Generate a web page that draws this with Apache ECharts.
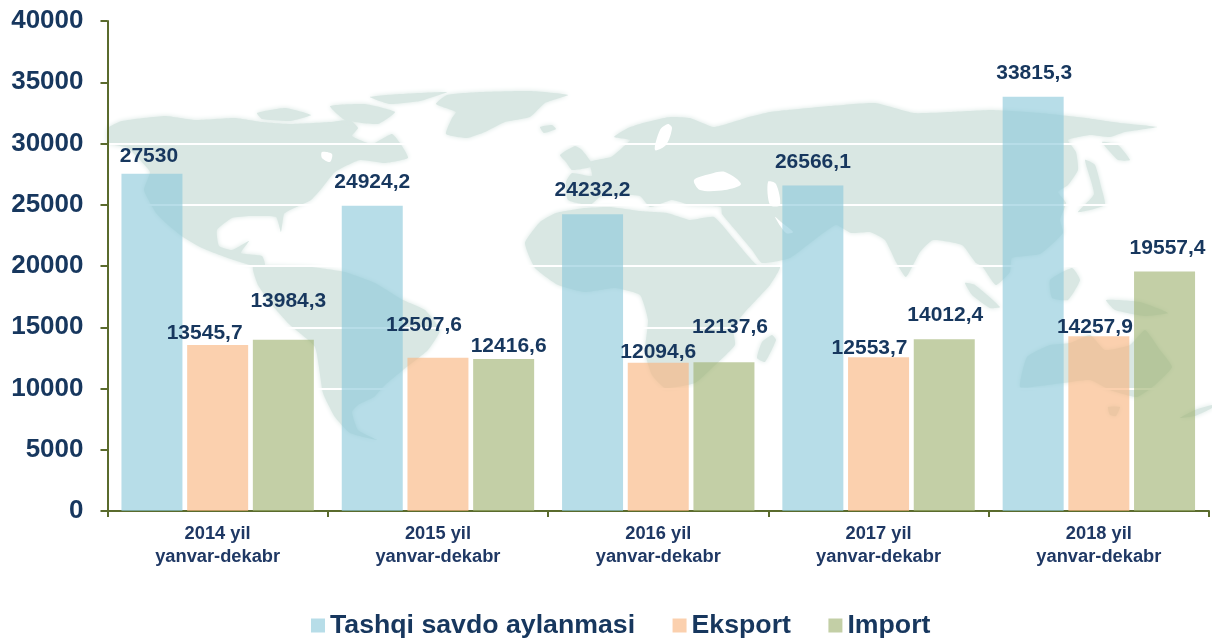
<!DOCTYPE html>
<html><head><meta charset="utf-8">
<style>html,body{margin:0;padding:0;background:#fff}#c{width:1212px;height:639px}</style>
<script src="https://cdn.jsdelivr.net/npm/echarts@6/dist/echarts.min.js"></script>
</head><body><div id="c"></div>
<script>
const categories = ['2014 yil\nyanvar-dekabr','2015 yil\nyanvar-dekabr','2016 yil\nyanvar-dekabr','2017 yil\nyanvar-dekabr','2018 yil\nyanvar-dekabr'];
const seriesNames = ['Tashqi savdo aylanmasi','Eksport','Import'];
const savdo = [27530, 24924.2, 24232.2, 26566.1, 33815.3];
const eksport = [13545.7, 12507.6, 12094.6, 12553.7, 14257.9];
const importV = [13984.3, 12416.6, 12137.6, 14012.4, 19557.4];
// label nudges (style only, not data)
const savdoNudge = [[-3,-2],[0,-8],[0,-8],[0,-8],[1,-8]];
const eksportNudge = [[-13,4],[-14,-17],[0,5],[-9,6],[-4,6]];
const importNudge = [[5,-23],[5,3],[6,-20],[1,-9],[3,-8]];
// decorative backdrop: world map silhouette (picture pixels)
const land = [
 [[108,128],[122,121],[165,116],[195,120],[235,118],[262,122],[290,124],[330,122],[350,120],[358,128],[352,136],[372,144],[392,134],[402,146],[408,158],[385,163],[360,160],[335,172],[322,188],[311,200],[290,210],[284,214],[281,232],[276,217],[250,216],[232,218],[217,230],[219,246],[232,250],[249,241],[241,253],[262,256],[265,265],[250,265],[225,257],[202,248],[183,237],[168,225],[156,213],[144,190],[150,172],[140,160],[128,148],[108,143]],
 [[447,95],[480,92],[530,91],[568,95],[545,103],[530,117],[505,122],[485,132],[467,138],[446,134],[452,118],[456,112],[436,104]],
 [[257,113],[285,108],[311,115],[290,121],[262,119]],
 [[370,97],[400,94],[447,92],[420,101],[390,104]],
 [[330,106],[365,104],[395,112],[378,124],[345,120]],
 [[540,127],[552,125],[556,129],[544,133]],
 [[253,267],[280,266],[311,267],[345,272],[375,283],[403,300],[425,310],[440,330],[428,350],[403,370],[385,385],[374,397],[358,405],[352,412],[358,430],[377,440],[350,433],[335,417],[323,393],[315,347],[290,325],[272,305],[258,285]],
 [[525,243],[540,222],[556,213],[585,208],[610,207],[640,211],[667,213],[690,220],[714,217],[733,238],[757,265],[780,267],[770,285],[745,312],[733,328],[735,345],[712,368],[695,383],[665,388],[652,375],[645,352],[648,320],[640,295],[615,288],[585,292],[558,285],[535,268]],
 [[772,335],[776,340],[765,362],[757,358],[762,342]],
 [[568,200],[566,182],[572,173],[592,176],[590,162],[611,157],[622,148],[630,140],[614,137],[628,128],[643,123],[670,117],[690,118],[714,127],[749,117],[770,112],[788,110],[830,106],[875,103],[914,113],[950,112],[992,110],[1040,113],[1086,118],[1120,123],[1157,127],[1125,132],[1110,137],[1090,135],[1068,140],[1076,152],[1078,170],[1068,185],[1058,192],[1066,203],[1060,220],[1063,233],[1040,254],[1012,258],[1010,272],[996,285],[982,266],[976,263],[962,245],[933,240],[920,252],[906,277],[896,262],[885,240],[870,232],[851,233],[836,225],[818,237],[790,258],[762,263],[752,250],[737,232],[722,214],[721,207],[690,205],[672,200],[650,207],[640,196],[620,195],[600,197],[590,205]],
 [[560,155],[575,146],[582,150],[593,166],[572,170],[566,162]],
 [[1085,160],[1095,165],[1102,190],[1105,205],[1090,210],[1078,212],[1094,194]],
 [[1102,142],[1118,145],[1130,160],[1118,160]],
 [[965,283],[975,285],[1000,307],[990,308],[972,295]],
 [[1050,280],[1072,268],[1080,280],[1068,300],[1052,298]],
 [[1106,300],[1140,302],[1168,313],[1145,316],[1115,310]],
 [[1020,387],[1027,357],[1050,345],[1070,343],[1090,335],[1105,350],[1130,345],[1145,330],[1160,350],[1172,367],[1155,385],[1137,397],[1110,390],[1090,380],[1063,383],[1040,386]],
 [[1108,407],[1120,407],[1116,416],[1110,415]],
 [[1180,418],[1195,410],[1212,405],[1212,408],[1195,416]]
];
const water = [
 [[694,180],[710,174],[725,172],[741,184],[725,190],[700,190]],
 [[768,182],[776,184],[780,205],[770,205]],
 [[660,130],[668,124],[672,128],[666,145],[655,150]],
 [[322,152],[332,154],[330,162],[322,158]],
 [[775,217],[781,222],[793,232],[786,233]]
];
const navy = '#17375e';
const font = '"Liberation Sans",Arial,sans-serif';
function mk(name, vals, color, nudge){
  return {name, type:'bar', barWidth:61, barGap:'7.7%', z:2,
    itemStyle:{color},
    data: vals.map((v,i)=>({value:v,
      label:{show:true,position:'top',distance:5,offset:nudge[i],
        formatter:()=>String(v).replace('.',','),
        fontFamily:font,fontWeight:'bold',fontSize:21,color:navy}}))};
}
const chart = echarts.init(document.getElementById('c'),null,{renderer:'canvas'});
const shapes = land.map(p=>({type:'polygon',silent:true,z:-10,shape:{points:p,smooth:0.15},
    style:{fill:'#d9e7e3',shadowBlur:5,shadowColor:'#d9e7e3'}}))
  .concat(water.map(p=>({type:'polygon',silent:true,z:-9,shape:{points:p,smooth:0.3},
    style:{fill:'#ffffff'}})));
chart.setOption({
  animation:false,
  backgroundColor:'#fff',
  grid:{left:107.5,top:21,width:1101.5,height:490,containLabel:false},
  graphic:{elements:shapes},
  legend:{left:306,top:612,itemWidth:14,itemHeight:14,itemGap:37.5,icon:'rect',padding:[0,5],
    data:seriesNames,selectedMode:false,
    textStyle:{fontFamily:font,fontWeight:'bold',fontSize:26.7,color:navy,padding:[3,0,0,0]}},
  xAxis:{type:'category',data:categories,
    axisLine:{lineStyle:{color:'#5a6b2d',width:2}},
    axisTick:{show:true,alignWithLabel:false,length:6,lineStyle:{color:'#5a6b2d',width:2}},
    axisLabel:{margin:11,lineHeight:23,fontFamily:font,fontWeight:'bold',fontSize:18.3,color:'#1f3864'}},
  yAxis:{type:'value',min:0,max:40000,interval:5000,
    axisLine:{show:true,lineStyle:{color:'#5a6b2d',width:2}},
    axisTick:{show:true,length:7,lineStyle:{color:'#5a6b2d',width:2}},
    splitLine:{show:true,lineStyle:{color:'#ffffff',width:2}},
    axisLabel:{margin:24,formatter:v=>String(v),padding:[6,0,0,0],fontFamily:font,fontWeight:'bold',fontSize:26,color:navy}},
  series:[
    mk(seriesNames[0],savdo,'rgba(141,201,219,0.63)',savdoNudge),
    mk(seriesNames[1],eksport,'rgba(249,181,127,0.63)',eksportNudge),
    mk(seriesNames[2],importV,'rgba(160,179,114,0.63)',importNudge)
  ]
});
</script></body></html>
